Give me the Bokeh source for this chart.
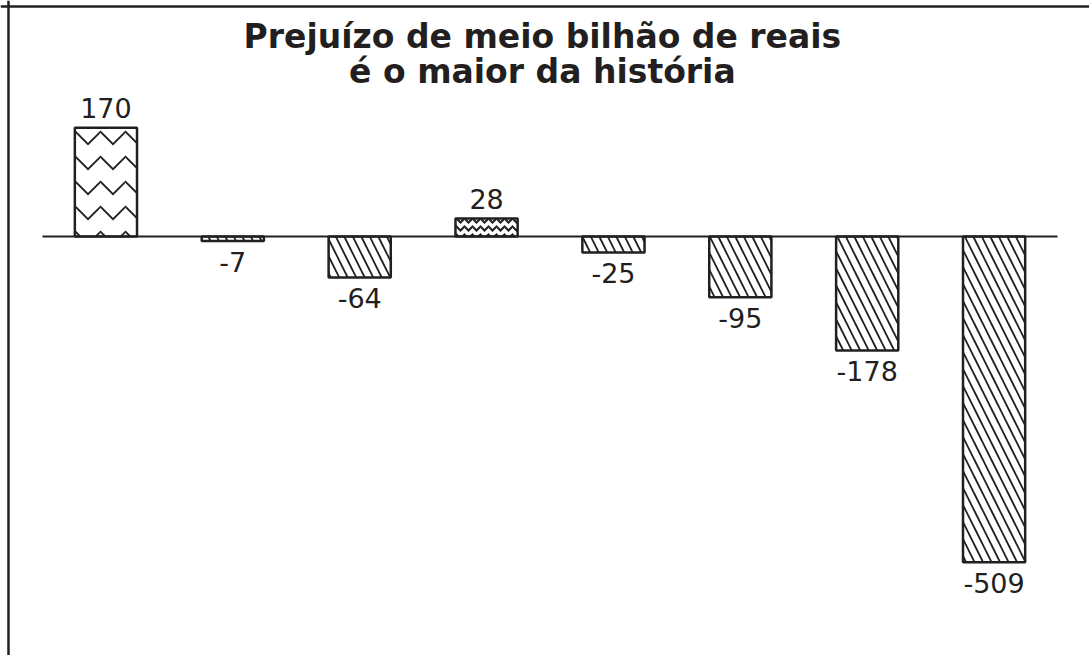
from bokeh.plotting import figure
from bokeh.models import Span
from bokeh.core.properties import value
from bokeh.embed import file_html
from bokeh.resources import INLINE

# Data
values = [170, -7, -64, 28, -25, -95, -178, -509]
labels = ["170", "-7", "-64", "28", "-25", "-95", "-178", "-509"]
title_lines = ["Prejuízo de meio bilhão de reais", "é o maior da história"]

INK = "#231f20"
W, H = 1089, 655

n = len(values)
xs = list(range(n))
x_lo, x_hi = -0.831, n - 1 + 0.752
y_lo, y_hi = -654.7, 368.75

p = figure(width=W, height=H, output_backend="svg", toolbar_location=None,
           x_range=(x_lo, x_hi), y_range=(y_lo, y_hi), min_border=0,
           tools="")
p.axis.visible = False
p.grid.visible = False
p.outline_line_color = None
p.background_fill_color = "white"
p.border_fill_color = "white"

pos_x = [x for x, v in zip(xs, values) if v >= 0]
pos_v = [v for v in values if v >= 0]
neg_x = [x for x, v in zip(xs, values) if v < 0]
neg_v = [v for v in values if v < 0]

# first positive bar: large waves; second positive bar: fine waves
p.vbar(x=[pos_x[0]], top=[pos_v[0]], bottom=0, width=0.49, fill_color="white",
       line_color=INK, line_width=2.5, hatch_pattern="horizontal_wave",
       hatch_scale=25, hatch_weight=1.8, hatch_color=INK)
p.vbar(x=[pos_x[1]], top=[pos_v[1]], bottom=0, width=0.49, fill_color="white",
       line_color=INK, line_width=2.5, hatch_pattern="horizontal_wave",
       hatch_scale=8, hatch_weight=2, hatch_color=INK)
p.vbar(x=neg_x, top=0, bottom=neg_v, width=0.49, fill_color="white",
       line_color=INK, line_width=2.5, hatch_pattern="left_diagonal_line",
       hatch_scale=17, hatch_weight=1.8, hatch_color=INK)

# zero line
p.segment(x0=[-0.5], x1=[n - 0.5], y0=[0], y1=[0], line_color=INK, line_width=2)

# value labels
p.text(x=pos_x, y=pos_v, text=[labels[i] for i in pos_x], text_align="center",
       text_baseline="alphabetic", y_offset=-20, text_font=value("DejaVu Sans"),
       text_font_size="27px", text_color=INK)
p.text(x=neg_x, y=neg_v, text=[labels[i] for i in neg_x], text_align="center",
       text_baseline="alphabetic", y_offset=21, text_font=value("DejaVu Sans"),
       text_font_size="27px", text_color=INK)

# title (inside the frame)
tx = 3.44
p.text(x=[tx, tx], y=[y_hi, y_hi], text=title_lines, text_align="center",
       text_baseline="alphabetic", y_offset=[36, 71],
       text_font=value("DejaVu Sans"), text_font_style="bold",
       text_font_size="33px", text_color=INK)

# frame: left and top edges
p.add_layout(Span(location=-0.768, dimension="height", line_color=INK, line_width=2.5))
p.add_layout(Span(location=359.4, dimension="width", line_color=INK, line_width=2.5))

open("out.html", "w").write(file_html(p, INLINE))
